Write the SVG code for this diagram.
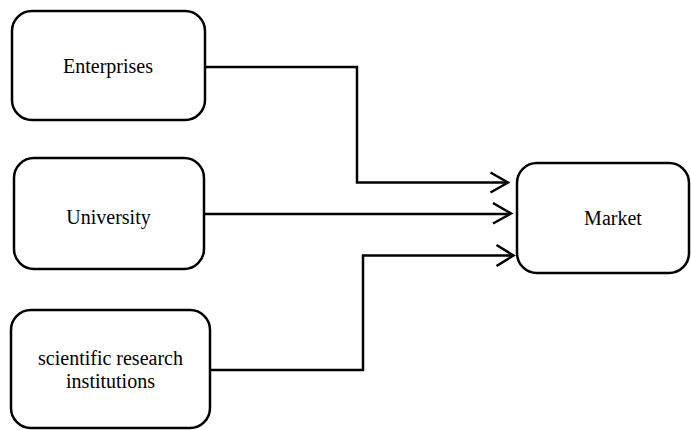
<svg xmlns="http://www.w3.org/2000/svg" width="691" height="430" viewBox="0 0 691 430">
<style>
.box{fill:#fff;stroke:#000;stroke-width:2.5}
.lbl{font-family:'Liberation Serif','Times New Roman',serif;font-size:20px;fill:#000;text-anchor:middle}
.conn{fill:none;stroke:#000;stroke-width:2.5}
.head{fill:none;stroke:#000;stroke-width:2.5;stroke-linejoin:miter}
</style>
<rect width="691" height="430" fill="#fff"/>
<g id="enterprises"><rect class="box" x="12" y="11" width="193" height="109" rx="20"/><text class="lbl" x="108" y="73">Enterprises</text></g>
<g id="university"><rect class="box" x="14" y="158" width="190" height="111" rx="20"/><text class="lbl" x="108.5" y="224">University</text></g>
<g id="institutions"><rect class="box" x="11" y="310" width="199" height="118" rx="20"/><text class="lbl" x="110.5" y="365">scientific research</text><text class="lbl" x="110.5" y="388">institutions</text></g>
<g id="market"><rect class="box" x="517" y="163" width="172" height="110" rx="20"/><text class="lbl" x="613" y="225">Market</text></g>
<g id="connectors">
<path class="conn" d="M205 67 H357 V182.5 H507"/>
<path class="head" d="M490.5 172.5 L508 182.5 L490.5 192.5"/>
<path class="conn" d="M204 214 H510"/>
<path class="head" d="M493 203 L511 213.5 L493 223.5"/>
<path class="conn" d="M210 370 H363 V255.5 H512"/>
<path class="head" d="M496.5 245 L513.5 255.5 L496.5 266"/>
</g>
</svg>
